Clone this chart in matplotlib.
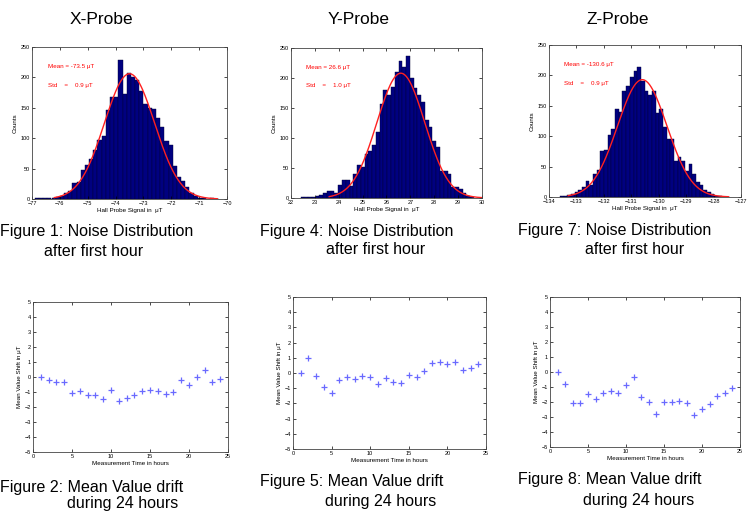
import numpy as np
import matplotlib
matplotlib.use("Agg")
import matplotlib.pyplot as plt

plt.rcParams['font.family'] = ['Liberation Sans', 'DejaVu Sans']

# histogram counts (bins left to right)
x_range = (-76.9, -70.3)
x_counts = [2, 1, 2, 1, 1, 3, 5, 10, 13, 27, 28, 48, 56, 66, 80, 97, 103, 147, 167, 167,
            229, 172, 207, 200, 196, 178, 157, 150, 148, 133, 119, 95, 89, 54, 37, 30,
            20, 10, 5, 2, 2, 0, 1, 0]
y_range = (22.4, 29.66)
y_counts = [1, 1, 2, 2, 3, 5, 8, 12, 12, 8, 22, 30, 30, 20, 40, 55, 52, 73, 78, 88,
            110, 157, 180, 172, 185, 210, 228, 218, 237, 200, 183, 172, 160, 130, 118,
            95, 85, 45, 45, 40, 18, 18, 15, 8, 3, 1]
z_range = (-133.6, -127.7)
z_counts = [1, 2, 3, 5, 8, 12, 17, 27, 20, 38, 45, 75, 78, 102, 112, 145, 140, 175,
            183, 197, 208, 213, 190, 175, 167, 175, 138, 145, 115, 95, 95, 60, 65, 60,
            42, 55, 38, 25, 20, 12, 8, 5, 2, 1]

# gaussian fit parameters shown on the plots
fit_mean = [-73.5, 26.6, -130.6]
fit_std = [0.9, 1.0, 0.9]
fit_peak = [206, 208, 193]
mean_labels = ['Mean = -73.5 μT', 'Mean = 26.6 μT', 'Mean = -130.6 μT']
std_labels = ['Std    =    0.9 μT', 'Std    =    1.0 μT', 'Std    =    0.9 μT']
hist_xlim = [(-77, -70), (22, 30), (-134, -127)]

# mean value drift over 24 hours
hours = list(range(1, 25))
x_drift = [0, -0.2, -0.33, -0.33, -1.07, -0.95, -1.22, -1.22, -1.44, -0.87, -1.6, -1.4,
           -1.22, -0.96, -0.89, -0.96, -1.11, -1.0, -0.2, -0.53, 0.02, 0.49, -0.33, -0.11]
y_drift = [0, 1.0, -0.18, -0.9, -1.3, -0.49, -0.27, -0.38, -0.22, -0.24, -0.73, -0.31,
           -0.6, -0.64, -0.16, -0.27, 0.11, 0.66, 0.75, 0.62, 0.73, 0.2, 0.33, 0.62]
z_drift = [0, -0.78, -2.07, -2.09, -1.47, -1.8, -1.4, -1.27, -1.4, -0.84, -0.31, -1.69,
           -2.02, -2.82, -2.02, -2.0, -1.91, -2.04, -2.89, -2.49, -2.16, -1.6, -1.42, -1.07]

W, H = 749, 511
fig = plt.figure(figsize=(W / 100, H / 100), dpi=100)


def box(l, t, r, b):
    return [l / W, 1 - b / H, (r - l) / W, (b - t) / H]


def style(ax):
    ax.tick_params(direction='in', length=2, width=0.5, labelsize=4,
                   top=True, right=True, pad=1.5)
    for s in ax.spines.values():
        s.set_linewidth(0.6)
        s.set_color('#444444')


top_boxes = [(32, 47, 227, 199), (291, 48, 482, 198), (549, 45, 741, 197)]
bot_boxes = [(33, 302, 228, 452), (293, 297, 486, 449), (550, 297, 740, 447)]
hists = [(x_range, x_counts), (y_range, y_counts), (z_range, z_counts)]
drifts = [x_drift, y_drift, z_drift]

for i in range(3):
    ax = fig.add_axes(box(*top_boxes[i]))
    rng, counts = hists[i]
    edges = np.linspace(rng[0], rng[1], len(counts) + 1)
    ax.bar(edges[:-1], counts, width=np.diff(edges), align='edge',
           color='#000080', edgecolor='#000033', linewidth=0.3)
    xs = np.linspace(fit_mean[i] - 3 * fit_std[i], fit_mean[i] + 3.5 * fit_std[i], 200)
    ax.plot(xs, fit_peak[i] * np.exp(-0.5 * ((xs - fit_mean[i]) / fit_std[i]) ** 2),
            color='#ff2020', linewidth=1.0)
    ax.set_xlim(*hist_xlim[i])
    ax.set_ylim(0, 250)
    ax.set_xticks(range(int(hist_xlim[i][0]), int(hist_xlim[i][1]) + 1))
    ax.set_yticks(range(0, 251, 50))
    ax.text(0.08, 0.86, mean_labels[i], transform=ax.transAxes, fontsize=4.5, color='red')
    ax.text(0.08, 0.74, std_labels[i], transform=ax.transAxes, fontsize=4.5, color='red')
    ax.set_ylabel('Counts', fontsize=4.5, labelpad=2)
    ax.set_xlabel('Hall Probe Signal in  μT', fontsize=4.5, labelpad=1.5)
    style(ax)

    ax2 = fig.add_axes(box(*bot_boxes[i]))
    ax2.plot(hours, drifts[i], '+', color='#6a6aff', markersize=4.5, markeredgewidth=0.9)
    ax2.set_xlim(0, 25)
    ax2.set_ylim(-5, 5)
    ax2.set_xticks(range(0, 26, 5))
    ax2.set_yticks(range(-5, 6))
    ax2.set_ylabel('Mean Value Shift in μT', fontsize=4.5, labelpad=2)
    ax2.set_xlabel('Measurement Time in hours', fontsize=4.5, labelpad=1.5)
    style(ax2)

# probe titles
for label, cx in [('X-Probe', 101), ('Y-Probe', 359), ('Z-Probe', 618)]:
    fig.text(cx / W, 1 - 20 / H, label, fontsize=12.5, ha='center', va='center')

captions = [
    ('Figure 1: Noise Distribution', 0, 231), ('after first hour', 44, 251),
    ('Figure 4: Noise Distribution', 260, 231), ('after first hour', 326, 250),
    ('Figure 7: Noise Distribution', 518, 230), ('after first hour', 585, 250),
    ('Figure 2: Mean Value drift', 0, 487), ('during 24 hours', 67, 503),
    ('Figure 5: Mean Value drift', 260, 481), ('during 24 hours', 325, 501),
    ('Figure 8: Mean Value drift', 518, 479), ('during 24 hours', 583, 500),
]
for txt, x, y in captions:
    fig.text(x / W, 1 - y / H, txt, fontsize=11.5, ha='left', va='center')

fig.savefig('out.png', dpi=100)
